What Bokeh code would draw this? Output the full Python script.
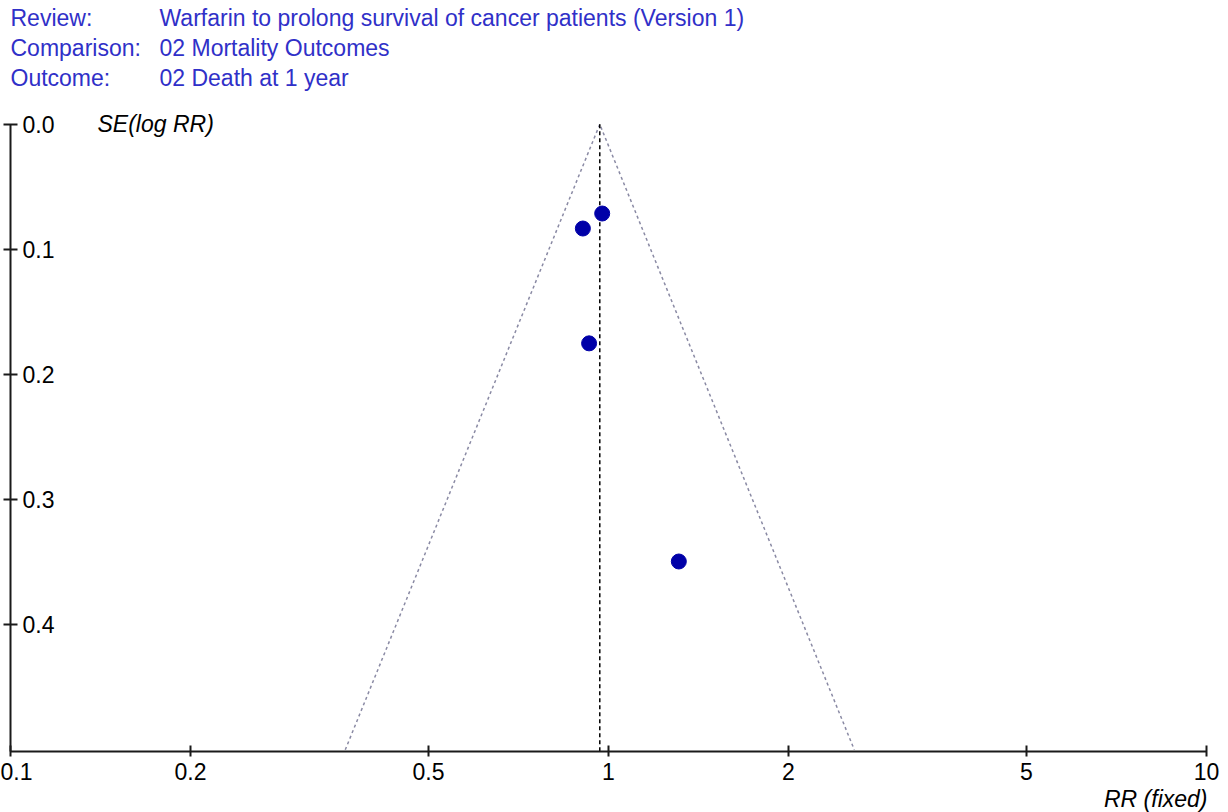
import math
from bokeh.plotting import figure
from bokeh.models import FixedTicker, Range1d, ColumnDataSource, Title
from bokeh.core.properties import value
from bokeh.embed import file_html
from bokeh.resources import INLINE

# ---- data ----
study_rr = [0.976, 0.906, 0.928, 1.311]
study_se = [0.0713, 0.0833, 0.1751, 0.3495]
pooled_rr = 0.967
se_max = 0.5

x_ticks = [0.1, 0.2, 0.5, 1, 2, 5, 10]
x_tick_labels = ["0.1", "0.2", "0.5", "1", "2", "5", "10"]
y_ticks = [0.0, 0.1, 0.2, 0.3, 0.4]
y_tick_labels = ["0.0", "0.1", "0.2", "0.3", "0.4"]

header_keys = ["Review:", "Comparison:", "Outcome:"]
header_vals = ["Warfarin to prolong survival of cancer patients (Version 1)",
               "02 Mortality Outcomes",
               "02 Death at 1 year"]

# ---- layout / style ----
FONT = "Liberation Sans"
HDR = "#3030c8"
AX = "#1a1a1a"
Y_BOTTOM = 0.5014          # lower end of the SE axis
Y_TOP = -0.099             # room above SE = 0 for the header
HEADER_ROW_PX = [-106, -76, -46]

p = figure(width=1220, height=812, x_axis_type="log",
           x_range=Range1d(0.1, 10), y_range=Range1d(Y_BOTTOM, Y_TOP),
           output_backend="svg", toolbar_location=None,
           min_border_left=10, min_border_right=14,
           min_border_top=0, min_border_bottom=0)
p.outline_line_color = None
p.grid.visible = False

# x axis
xa = p.xaxis[0]
xa.ticker = FixedTicker(ticks=x_ticks, minor_ticks=[])
xa.major_label_overrides = {t: l for t, l in zip(x_ticks, x_tick_labels)}
xa.major_tick_in = 6
xa.major_tick_out = 5
xa.minor_tick_line_color = None
xa.axis_line_width = 2
xa.axis_line_color = AX
xa.major_tick_line_width = 2
xa.major_tick_line_color = AX
xa.major_label_text_font = FONT
xa.major_label_text_font_size = "23px"
xa.major_label_text_color = "black"
xa.major_label_standoff = 6

p.add_layout(Title(text="RR (fixed)", align="right", standoff=2, offset=-1,
                   text_font=FONT, text_font_size="23px", text_font_style="italic",
                   text_color="black"), "below")

# y axis (tick labels are drawn inside the plot area, right of the axis)
ya = p.yaxis[0]
ya.ticker = FixedTicker(ticks=y_ticks, minor_ticks=[])
ya.bounds = (0.0, Y_BOTTOM)
ya.major_label_overrides = {t: "" for t in y_ticks}
ya.major_tick_in = 7
ya.major_tick_out = 7
ya.minor_tick_line_color = None
ya.axis_line_width = 2
ya.axis_line_color = AX
ya.major_tick_line_width = 2
ya.major_tick_line_color = AX
ya.major_label_standoff = 0

ysrc = ColumnDataSource(dict(x=[x_ticks[0]] * len(y_ticks), y=y_ticks, t=y_tick_labels))
p.text(x="x", y="y", text="t", source=ysrc, x_offset=12,
       text_font=value(FONT), text_font_size="23px", text_color="black",
       text_baseline="middle", text_align="left")

# funnel (pseudo 95% limits) and pooled estimate
lo = pooled_rr * math.exp(-1.96 * se_max)
hi = pooled_rr * math.exp(1.96 * se_max)
p.line([lo, pooled_rr, hi], [se_max, 0.0, se_max], line_color="#8a8aa4",
       line_width=1.5, line_dash="3 3")
p.line([pooled_rr, pooled_rr], [0.0, Y_BOTTOM], line_color="black",
       line_width=1.5, line_dash="4 3")

# studies
p.scatter(study_rr, study_se, size=15, fill_color="#0000a8", line_color="#0000a8",
          marker="circle")

# y caption
p.text(x=[x_ticks[0]], y=[0.0], text=["SE(log RR)"], x_offset=87,
       text_font=value(FONT), text_font_size="23px", text_font_style="italic",
       text_color="black", text_baseline="middle")

# header
hsrc = ColumnDataSource(dict(x=[x_ticks[0]] * 3, y=[0.0] * 3, k=header_keys,
                             v=header_vals, dy=HEADER_ROW_PX))
p.text(x="x", y="y", text="k", source=hsrc, y_offset="dy",
       text_font=value(FONT), text_font_size="23px", text_color=HDR,
       text_baseline="middle")
p.text(x="x", y="y", text="v", source=hsrc, y_offset="dy", x_offset=149,
       text_font=value(FONT), text_font_size="23px", text_color=HDR,
       text_baseline="middle")

open("out.html", "w").write(file_html(p, INLINE))
